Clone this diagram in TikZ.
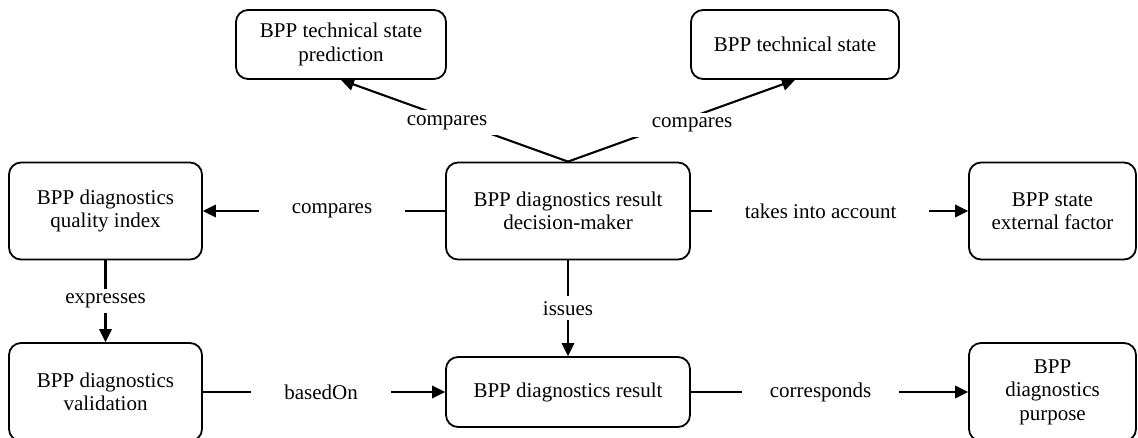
\documentclass[tikz,border=0pt]{standalone}
\usepackage{fontspec}
\setmainfont{Liberation Serif}
\usetikzlibrary{arrows.meta}
\begin{document}
\begin{tikzpicture}[x=1pt,y=-1pt,
  concept/.style={draw,line width=1.8pt,rounded corners=12pt,align=center,
    font=\fontsize{21}{23.5}\selectfont,inner sep=0pt},
  rel/.style={line width=2.1pt,-{Triangle[length=13pt,width=12.5pt]}},
  lbl/.style={fill=white,inner xsep=33pt,inner ysep=5pt,
    font=\fontsize{21}{23.5}\selectfont}]
\useasboundingbox (0,0) rectangle (1138,437);
\clip (0,0) rectangle (1138,437);

% concepts
\node[concept,minimum width=210pt,minimum height=69pt] (pred) at (341,44.5)
  {BPP technical state\\prediction};
\node[concept,minimum width=208pt,minimum height=69pt] (tech) at (795,44.5)
  {BPP technical state};
\node[concept,minimum width=193pt,minimum height=97pt] (qual) at (105.5,211)
  {BPP diagnostics\\quality index};
\node[concept,minimum width=244pt,minimum height=97pt] (dm) at (568,211)
  {BPP diagnostics result\\decision-maker};
\node[concept,minimum width=167pt,minimum height=97pt] (ext) at (1052.5,211)
  {BPP state\\external factor};
\node[concept,minimum width=193pt,minimum height=98pt] (val) at (105.5,392)
  {BPP diagnostics\\validation};
\node[concept,minimum width=244pt,minimum height=70pt] (res) at (568,392)
  {BPP diagnostics result};
\node[concept,minimum width=167pt,minimum height=98pt] (purp) at (1052.5,392)
  {BPP\\diagnostics\\purpose};

% relations
\draw[rel] (dm.north) -- node[lbl,pos=0.48,xshift=-12pt]{compares} (pred.south);
\draw[rel] (dm.north) -- node[lbl,pos=0.45,xshift=22pt]{compares} (tech.south);
\draw[rel] (dm.west) -- node[lbl,pos=0.467]{compares} (qual.east);
\draw[rel] (dm.east) -- node[lbl,pos=0.468]{takes into account} (ext.west);
\draw[rel] (dm.south) -- node[lbl]{issues} (res.north);
\draw[rel] (qual.south) -- node[lbl]{expresses} (val.north);
\draw[rel] (val.east) -- node[lbl,pos=0.488]{basedOn} (res.west);
\draw[rel] (res.east) -- node[lbl,pos=0.468,inner xsep=28pt]{corresponds} (purp.west);
\end{tikzpicture}
\end{document}
